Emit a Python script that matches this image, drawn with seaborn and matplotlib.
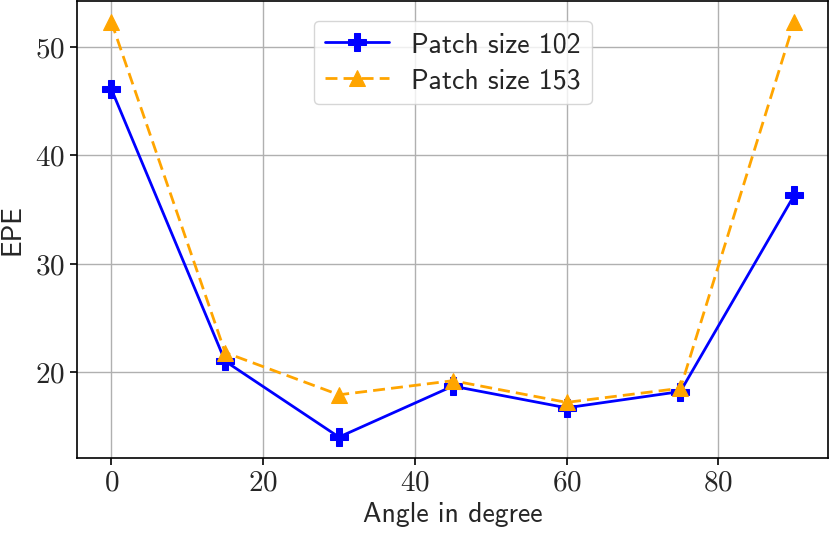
import numpy as np
import pandas as pd
import matplotlib
matplotlib.use("Agg")
import matplotlib.pyplot as plt
import seaborn as sns

angles = [0, 15, 30, 45, 60, 75, 90]
epe_102 = [46.1, 21.0, 14.0, 18.7, 16.7, 18.2, 36.3]
epe_153 = [52.3, 21.8, 17.9, 19.2, 17.2, 18.5, 52.3]

sns.set_style("ticks")
plt.rcParams["mathtext.fontset"] = "cm"
plt.rcParams["font.family"] = ["cmss10", "DejaVu Sans"]
plt.rcParams["axes.unicode_minus"] = False

fig, ax = plt.subplots(figsize=(8.3, 5.33), dpi=100)
fig.subplots_adjust(left=0.093, right=0.998, top=0.998, bottom=0.141)

sns.lineplot(x=angles, y=epe_102, ax=ax, color="blue", marker="P",
             markersize=13, markeredgecolor="blue", linewidth=2,
             label="Patch size 102")
sns.lineplot(x=angles, y=epe_153, ax=ax, color="orange", marker="^",
             markersize=12, markeredgecolor="orange", linewidth=2,
             linestyle=(0, (4.3, 2.2)), label="Patch size 153")

ax.grid(True, color="#b0b0b0", linewidth=1)
ax.set_axisbelow(True)
for s in ax.spines.values():
    s.set_color("black")
    s.set_linewidth(1.2)

ax.set_xticks([0, 20, 40, 60, 80])
ax.set_xticklabels([rf"${v}$" for v in [0, 20, 40, 60, 80]], fontsize=21)
ax.set_yticks([20, 30, 40, 50])
ax.set_yticklabels([rf"${v}$" for v in [20, 30, 40, 50]], fontsize=21)
ax.tick_params(length=5, width=1.2, color="black")
ax.set_xlabel("Angle in degree", fontsize=20, labelpad=4)
ax.set_ylabel("EPE", fontsize=20, labelpad=8)

ax.legend(loc="upper center", fontsize=20, frameon=True, handlelength=2.3,
          borderpad=0.4, labelspacing=0.4, bbox_to_anchor=(0.5, 0.987))

fig.savefig("out.png", dpi=100)
